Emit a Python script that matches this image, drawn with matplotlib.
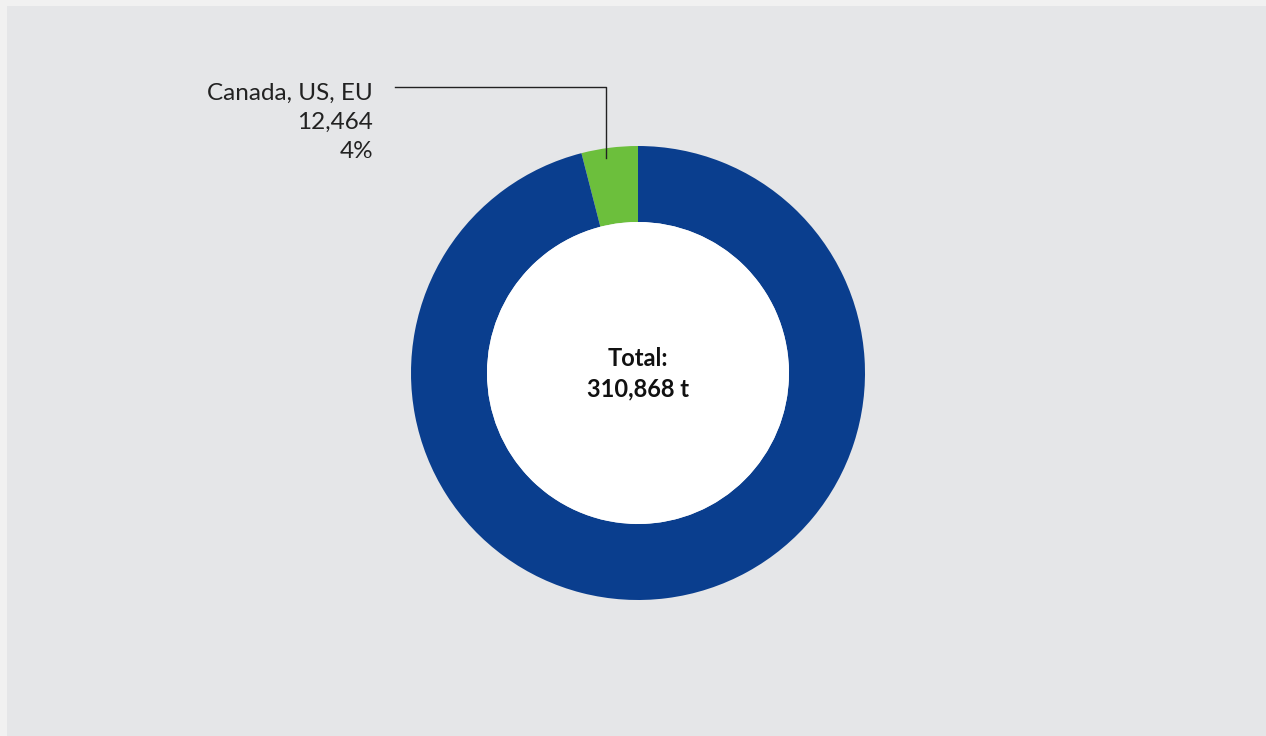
import matplotlib.pyplot as plt
from matplotlib.patches import Rectangle

# origin split of the total volume (tonnes)
regions = ["Canada, US, EU", "Other"]
tonnes = [12464, 298404]
shares = ["4%", "96%"]
total_label = "310,868 t"

colors = ["#6cbf3c", "#0a3e8e"]

W, H = 1266, 736

fig = plt.figure(figsize=(W / 100, H / 100), dpi=100)
fig.patch.set_facecolor("#f1f1f1")
ax = fig.add_axes([0, 0, 1, 1])

# grey panel
ax.add_patch(Rectangle((7, 0), W - 7, H - 6, facecolor="#e5e6e8",
                       edgecolor="none", zorder=0))

cx, cy = 638, H - 373
r_out, r_in = 227, 151

ax.pie(tonnes, colors=colors, startangle=90, counterclock=True,
       center=(cx, cy), radius=r_out, frame=True,
       wedgeprops=dict(width=r_out - r_in, edgecolor="none", linewidth=0))
ax.set_xlim(0, W)
ax.set_ylim(0, H)
ax.set_aspect("equal")
ax.axis("off")
ax.add_patch(plt.Circle((cx, cy), r_in, facecolor="white",
                        edgecolor="none", zorder=3))

ax.text(cx, cy + 14, "Total:", ha="center", va="center",
        fontsize=17, fontweight="bold", family="Lato", color="#111111",
        zorder=4)
ax.text(cx, cy - 16, total_label, ha="center", va="center",
        fontsize=17, fontweight="bold", family="Lato", color="#111111",
        zorder=4)

# callout for the small slice
lines = [regions[0], format(tonnes[0], ","), shares[0]]
for i, s in enumerate(lines):
    ax.text(373, H - 100 - 29 * i, s, ha="right", va="baseline",
            fontsize=17.5, family="Lato", color="#222222", zorder=4)
ax.plot([395, 606, 606], [H - 87, H - 87, H - 158], color="#222222",
        lw=1.0, zorder=5)

fig.savefig("out.png", dpi=100, facecolor=fig.get_facecolor())
